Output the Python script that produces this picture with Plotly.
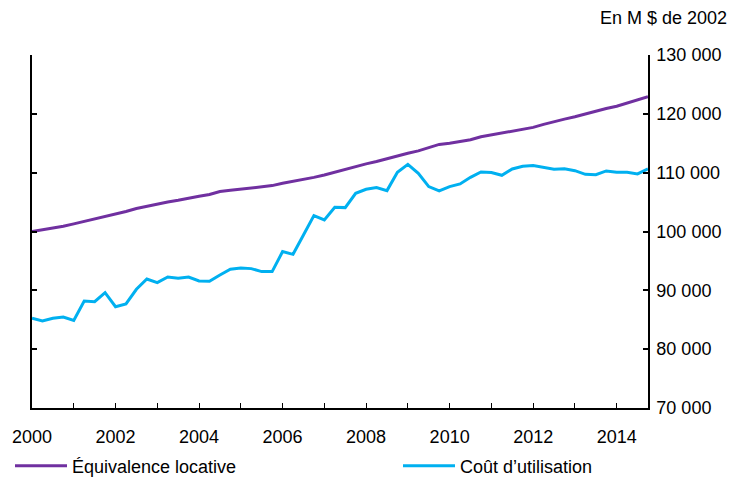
import plotly.graph_objects as go

years = [2000 + q * 0.25 for q in range(60)]

equiv_locative = [
    100000, 100300, 100550, 100900,
    101300, 101700, 102100, 102500,
    103000, 103400, 103900, 104300,
    104700, 105000, 105300, 105700,
    106000, 106300, 106800, 107000,
    107200, 107350, 107500, 107800,
    108200, 108500, 108900, 109200,
    109600, 110100, 110600, 111000,
    111500, 111900, 112400, 112900,
    113300, 113700, 114200, 114800,
    115000, 115300, 115600, 116100,
    116400, 116700, 117000, 117300,
    117700, 118200, 118700, 119100,
    119500, 120000, 120500, 120900,
    121300, 121800, 122300, 122900,
]

cout_utilisation = [
    85250, 84790, 85250, 85470,
    84900, 88190, 88070, 89600,
    87220, 87680, 90180, 91930,
    91300, 92270, 92050, 92270,
    91590, 91530, 92610, 93580,
    93800, 93690, 93180, 93180,
    96580, 96120, 99410, 102700,
    101960, 104110, 104060, 106490,
    107170, 107460, 106950, 110060,
    111420, 109890, 107630, 106890,
    107630, 108080, 109210, 110120,
    110010, 109550, 110630, 111080,
    111200, 110910, 110570, 110680,
    110340, 109720, 109660, 110290,
    110060, 110060, 109780, 110630,
]

series_names = ["Équivalence locative", "Coût d’utilisation"]
series_colors = ["#7030A0", "#00B0F0"]
legend_ids = ["legend", "legend2"]

tick_years = list(range(2000, 2015))
tick_text = [str(y) if y % 2 == 0 else "" for y in tick_years]
y_ticks = list(range(70000, 130001, 10000))
unit_label = "En M $ de 2002"

FONT = "Liberation Sans, Arial, sans-serif"

fig = go.Figure()
for name, vals, col, lg in zip(series_names, [equiv_locative, cout_utilisation], series_colors, legend_ids):
    fig.add_trace(go.Scatter(
        x=years, y=vals, mode="lines", name=name,
        line=dict(color=col, width=3),
        hoverinfo="skip", legend=lg,
    ))

legend_common = dict(
    orientation="h", xref="container", yref="container",
    yanchor="middle", y=0.029, xanchor="left",
    font=dict(size=18, family=FONT),
    itemwidth=52, bgcolor="rgba(0,0,0,0)",
)

fig.update_layout(
    width=732, height=480,
    margin=dict(l=32, r=84, t=55, b=72, autoexpand=False),
    paper_bgcolor="white", plot_bgcolor="white",
    font=dict(family=FONT, size=18, color="black"),
    separators=". ",
    showlegend=True,
    legend=dict(x=10 / 732, **legend_common),
    legend2=dict(x=398 / 732, **legend_common),
    xaxis=dict(
        range=[2000, 2014.75], tickvals=tick_years, ticktext=tick_text,
        ticks="inside", ticklen=5, tickcolor="black", tickwidth=1,
        ticklabelstandoff=12, automargin=False,
        showline=True, linecolor="black", linewidth=1.5,
        showgrid=False, zeroline=False, fixedrange=True,
    ),
    yaxis=dict(
        side="right", range=[70000, 130000], tickvals=y_ticks,
        tickformat=",d", ticklabelstandoff=3, automargin=False,
        ticks="inside", ticklen=5, tickcolor="black", tickwidth=1.5,
        showline=True, linecolor="black", linewidth=1.5, mirror="ticks",
        showgrid=False, zeroline=False, fixedrange=True,
    ),
    annotations=[dict(
        text=unit_label, xref="paper", yref="paper",
        x=1.1315, y=1.105, xanchor="right", yanchor="middle",
        showarrow=False, font=dict(size=18, family=FONT),
    )],
)

fig.write_html("out.html", config={"displayModeBar": False})
